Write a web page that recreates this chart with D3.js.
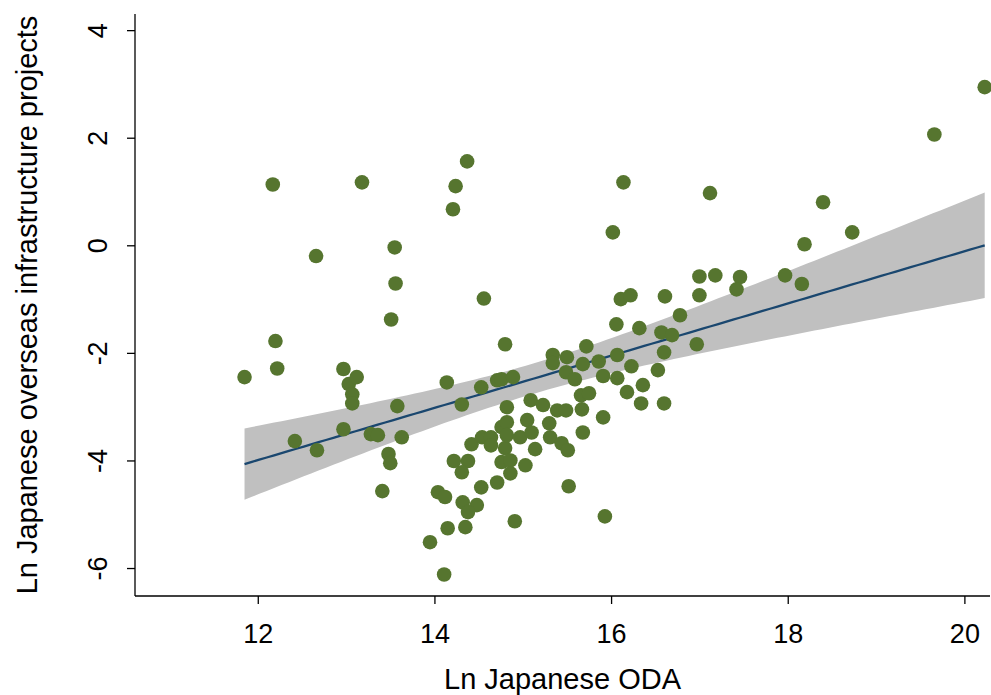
<!DOCTYPE html>
<html>
<head>
<meta charset="utf-8">
<script src="https://cdn.jsdelivr.net/npm/d3@7"></script>
<style>
  html, body { margin: 0; padding: 0; background: #fff; }
  svg { display: block; }
  text { font-family: Arial, "Liberation Sans", Helvetica, sans-serif; fill: #000; }
</style>
</head>
<body>
<svg id="chart" width="991" height="695"></svg>
<script>
// ---- data ----
const odaLn = [
  11.85, 12.17, 12.20, 12.22, 12.42, 12.66, 12.67, 12.97, 12.97, 13.03,
  13.07, 13.07, 13.12, 13.18, 13.28, 13.36, 13.41, 13.48, 13.50, 13.51,
  13.55, 13.56, 13.58, 13.63, 13.95, 14.04, 14.12, 14.14, 14.15, 14.21,
  14.24, 14.37, 14.22, 14.38, 14.31, 14.31, 14.32, 14.35, 14.48, 14.38,
  14.11, 14.42, 14.54, 14.53, 14.53, 14.56, 14.64, 14.64, 14.71, 14.76,
  14.89, 14.71, 14.76, 14.82, 14.80, 14.82, 14.80, 14.82, 14.76, 14.86,
  14.86, 14.91, 14.97, 15.03, 15.05, 15.09, 15.10, 15.14, 15.23, 15.30,
  15.31, 15.34, 15.34, 15.39, 15.49, 15.44, 15.51, 15.67, 15.68, 15.52,
  15.91, 15.93, 15.49, 15.59, 15.50, 15.68, 15.86, 16.07, 15.72, 15.91,
  16.07, 16.23, 16.53, 16.60, 15.66, 15.75, 16.18, 16.36, 16.34, 16.60,
  16.06, 16.32, 16.57, 16.69, 16.11, 16.22, 16.61, 16.78, 16.97, 16.02,
  16.14, 17.12, 17.00, 17.18, 17.46, 17.42, 17.00, 17.97, 18.16, 18.19,
  18.40, 18.73, 19.66, 20.23
];
const projectsLn = [
  -2.45,  1.13, -1.78, -2.29, -3.64, -0.20, -3.81, -2.30, -3.42, -2.58,
  -2.77, -2.94, -2.45,  1.17, -3.51, -3.53, -4.57, -3.88, -4.05, -1.38,
  -0.04, -0.71, -2.99, -3.57, -5.52, -4.59, -4.68, -2.55, -5.26,  0.67,
   1.10,  1.56, -4.01, -4.01, -4.22, -2.96, -4.78, -5.24, -4.83, -4.96,
  -6.12, -3.70, -3.57, -2.64, -4.50, -0.99, -3.57, -3.72, -2.51, -2.49,
  -2.45, -4.41, -3.38, -3.29, -1.84, -3.01, -3.77, -3.53, -4.03, -4.00,
  -4.24, -5.13, -3.57, -4.09, -3.25, -2.88, -3.48, -3.79, -2.97, -3.31,
  -3.57, -2.04, -2.19, -3.07, -3.07, -3.68, -3.81, -3.05, -3.48, -4.48,
  -3.20, -5.04, -2.36, -2.49, -2.08, -2.21, -2.16, -2.04, -1.88, -2.43,
  -2.47, -2.25, -2.32, -1.99, -2.79, -2.75, -2.73, -2.60, -2.94, -2.94,
  -1.47, -1.54, -1.62, -1.67, -1.00, -0.93, -0.95, -1.30, -1.84,  0.24,
   1.17,  0.97, -0.58, -0.56, -0.59, -0.82, -0.93, -0.56, -0.72,  0.02,
   0.80,  0.24,  2.06,  2.94
];
const xTicks = [12, 14, 16, 18, 20];
const yTicks = [-6, -4, -2, 0, 2, 4];
const xTitle = "Ln Japanese ODA";
const yTitle = "Ln Japanese overseas infrastructure projects";

(function () {
  const svg = d3.select("#chart");
  const pl = 135, pr = 990, pt = 14, pb = 596;

  const x = d3.scaleLinear().domain([10.61, 20.29]).range([pl, pr]);
  const y = d3.scaleLinear().domain([-6.52, 4.3]).range([pb, pt]);

  // linear fit with 95% CI of the mean (as lfitci)
  const pts = odaLn.map((v, i) => [v, projectsLn[i]]);
  const n = pts.length;
  const mx = d3.mean(pts, d => d[0]);
  const my = d3.mean(pts, d => d[1]);
  const sxx = d3.sum(pts, d => (d[0] - mx) ** 2);
  const sxy = d3.sum(pts, d => (d[0] - mx) * (d[1] - my));
  const b = sxy / sxx;
  const a = my - b * mx;
  const sse = d3.sum(pts, d => (d[1] - (a + b * d[0])) ** 2);
  const s = Math.sqrt(sse / (n - 2));
  const tcrit = 1.98;
  const [xmin, xmax] = d3.extent(odaLn);
  const grid = d3.range(0, 101).map(i => xmin + (xmax - xmin) * i / 100);
  const band = grid.map(g => {
    const fit = a + b * g;
    const se = s * Math.sqrt(1 / n + (g - mx) ** 2 / sxx);
    return { x: g, fit, lo: fit - tcrit * se, hi: fit + tcrit * se };
  });

  svg.append("path")
    .datum(band)
    .attr("fill", "#c0c0c0")
    .attr("d", d3.area().x(d => x(d.x)).y0(d => y(d.lo)).y1(d => y(d.hi)));

  svg.append("path")
    .datum(band)
    .attr("fill", "none")
    .attr("stroke", "#1a476f")
    .attr("stroke-width", 2.3)
    .attr("d", d3.line().x(d => x(d.x)).y(d => y(d.fit)));

  // points
  svg.append("g")
    .selectAll("circle")
    .data(pts)
    .join("circle")
    .attr("cx", d => x(d[0]))
    .attr("cy", d => y(d[1]))
    .attr("r", 7.3)
    .attr("fill", "#56752f");

  // axes
  const fmt = d => String(d);
  const xAxis = svg.append("g")
    .attr("transform", `translate(0,${pb})`)
    .call(d3.axisBottom(x).tickValues(xTicks).tickFormat(fmt).tickSize(8).tickPadding(20).tickSizeOuter(0));
  xAxis.select(".domain").attr("stroke", "#000").attr("stroke-width", 1.3)
    .attr("d", `M${pl},0H${pr}`);
  xAxis.selectAll(".tick line").attr("stroke", "#000").attr("stroke-width", 1.3);
  xAxis.selectAll(".tick text")
    .style("font-family", "Arial, 'Liberation Sans', sans-serif")
    .attr("font-size", 27).attr("fill", "#000");

  const yAxis = svg.append("g")
    .attr("transform", `translate(${pl},0)`)
    .call(d3.axisLeft(y).tickValues(yTicks).tickFormat(fmt).tickSize(8).tickSizeOuter(0));
  yAxis.select(".domain").attr("stroke", "#000").attr("stroke-width", 1.3)
    .attr("d", `M0,${pt}V${pb}`);
  yAxis.selectAll(".tick line").attr("stroke", "#000").attr("stroke-width", 1.3);
  yAxis.selectAll(".tick text")
    .style("font-family", "Arial, 'Liberation Sans', sans-serif")
    .attr("font-size", 27).attr("fill", "#000")
    .attr("text-anchor", "middle")
    .attr("x", 0).attr("y", 0).attr("dy", 0)
    .attr("transform", "translate(-28,0) rotate(-90)");

  // titles
  svg.append("text")
    .attr("x", (pl + pr) / 2)
    .attr("y", 689)
    .attr("text-anchor", "middle")
    .attr("font-size", 29)
    .text(xTitle);

  svg.append("text")
    .attr("transform", `translate(37,${(pt + pb) / 2}) rotate(-90)`)
    .attr("text-anchor", "middle")
    .attr("font-size", 29)
    .text(yTitle);
})();
</script>
</body>
</html>
